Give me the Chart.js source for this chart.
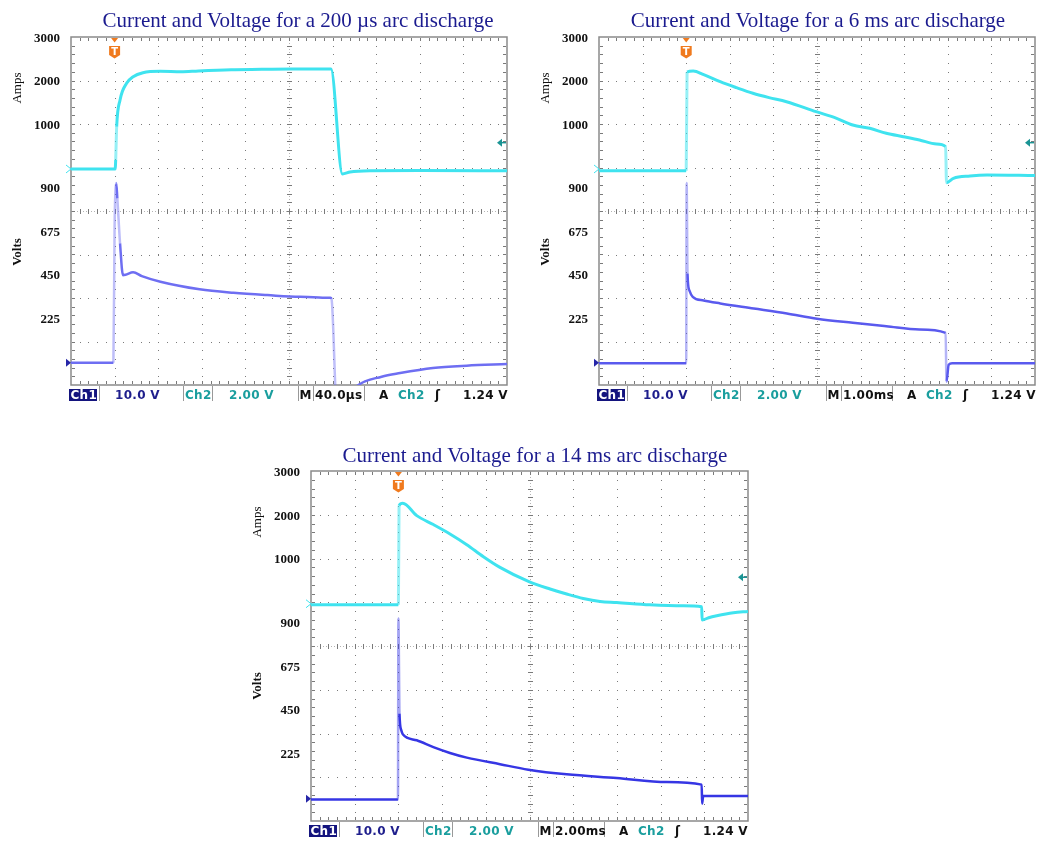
<!DOCTYPE html>
<html>
<head>
<meta charset="utf-8">
<script src="https://cdn.jsdelivr.net/npm/chart.js@4.4.0/dist/chart.umd.min.js"></script>
<style>
  body { margin: 0; background: #fff; width: 1039px; height: 842px; position: relative; overflow: hidden; font-family: "Liberation Serif", serif; }
  canvas { position: absolute; }
  .title { position: absolute; font-size: 21px; line-height: 24px; color: #1b1b8f; white-space: nowrap; transform: translateX(-50%); }
  .bar { position: absolute; height: 17px; width: 440px; font-family: "DejaVu Sans", sans-serif; font-size: 12px; font-weight: bold; }
  .bar span { position: absolute; top: 2px; line-height: 16px; white-space: nowrap; letter-spacing: 0.3px; }
  .bar i { position: absolute; top: 1px; width: 1px; height: 15px; background: #999; }
  .bar b { position: absolute; left: -2px; top: 3.5px; width: 28px; height: 12.5px; background: #14147e; }
</style>
</head>
<body>
<canvas id="scope1" width="520" height="410" style="left:0;top:0"></canvas>
<canvas id="scope2" width="511" height="410" style="left:528px;top:0"></canvas>
<canvas id="scope3" width="520" height="410" style="left:240px;top:434px"></canvas>

<script>
const ampTicks = [1000, 2000, 3000];
const voltTicks = [225, 450, 675, 900];
const timeBases = ['40.0µs', '1.00ms', '2.00ms'];
const titles = [
    'Current and Voltage for a 200 µs arc discharge',
    'Current and Voltage for a 6 ms arc discharge',
    'Current and Voltage for a 14 ms arc discharge'
];

// 200 us arc (time in µs)
const p1CurT = [0, 40.5, 41, 41.9, 45, 51, 57, 66, 82, 101, 117, 147, 175, 202, 238.5, 249, 256, 275, 320, 400];
const p1CurA = [0, 0, 207, 972, 1586, 1970, 2122, 2214, 2245, 2235, 2255, 2282, 2290, 2298, 2298, -115, -69, -40, -35, -40];
const p1VolT = [0, 38.9, 40, 41.5, 42.5, 45, 47.7, 50, 57, 65, 82, 118, 149, 180, 210, 238, 239, 244, 263, 285, 302, 332, 363, 400];
const p1VolV = [0, 0, 700, 930, 850, 618, 453, 455, 468, 448, 419, 380, 362, 350, 341, 336, 330, -250, -118, -72, -53, -27, -15, -7];

// 6 ms arc (time in ms)
const p2CurT = [0, 2.0, 2.02, 2.16, 2.4, 2.78, 3.15, 3.53, 3.9, 4.3, 4.98, 5.45, 5.82, 6.21, 6.59, 6.98, 7.35, 7.74, 7.95, 7.97, 8.13, 8.51, 8.9, 10];
const p2CurA = [-40, -40, 2230, 2253, 2170, 2007, 1870, 1740, 1640, 1547, 1317, 1165, 1011, 935, 821, 743, 667, 575, 513, -315, -214, -161, -138, -150];
const p2VolT = [0, 2.0, 2.01, 2.03, 2.07, 2.15, 2.4, 2.78, 3.55, 4.31, 5.0, 5.82, 6.59, 7.35, 7.95, 7.97, 8.02, 8.1, 10];
const p2VolV = [-3, -3, 930, 462, 376, 341, 322, 307, 281, 255, 228, 207, 189, 172, 155, -98, -10, -2, -2];

// 14 ms arc (time in ms)
const p3CurT = [0, 4.0, 4.03, 4.2, 4.84, 5.6, 6.36, 7.13, 7.89, 8.65, 9.95, 10.94, 11.7, 12.46, 13.23, 13.99, 15.5, 17.04, 17.88, 17.9, 18.2, 18.57, 19.33, 20];
const p3CurA = [-23, -23, 2243, 2295, 2014, 1810, 1595, 1350, 1075, 831, 510, 336, 222, 121, 53, 30, -23, -46, -69, -373, -320, -275, -206, -176];
const p3VolT = [0, 3.98, 4.0, 4.05, 4.13, 4.2, 4.84, 5.6, 6.36, 7.13, 8.65, 9.95, 11.7, 13.99, 16.28, 17.88, 17.9, 17.95, 20];
const p3VolV = [-4, -4, 927, 437, 352, 331, 300, 265, 235, 211, 177, 149, 125, 106, 85, 72, -26, 13, 13];

// screen ranges: 8 divisions, current 1000 A/div, voltage 225 V/div
const AMP_MIN = -4966, AMP_MAX = 3034;
const VOLT_MIN = -115, VOLT_MAX = 1685;
const TRIG_LEVEL_A = 605;

const CYAN = '#3fe3ef';

// dotted graticule, centre rulers, frame and scope markers
const scopeGrid = {
    id: 'scopeGrid',
    afterLayout(chart) {
        // let the zero-width label axes draw their labels left of the screen
        ['amps', 'volts'].forEach(id => {
            const s = chart.scales[id];
            s.left = 0;
            s.right = chart.chartArea.left;
            s.width = s.right;
        });
    },
    beforeDatasetsDraw(chart, args, o) {
        const { ctx, chartArea: a, scales } = chart;
        const xs = [], ys = [];
        for (let k = 0; k <= 10; k++) xs.push(scales.x.getPixelForValue(k * o.tPerDiv));
        for (let j = 0; j <= 8; j++) ys.push(scales.div.getPixelForValue(j));
        const sx = (xs[10] - xs[0]) / 50, sy = (ys[0] - ys[8]) / 40;
        const dot = (x, y, w, h) => ctx.fillRect(Math.round(x), Math.round(y), w, h);
        ctx.save();
        ctx.fillStyle = '#7a7a7a';
        for (let k = 1; k < 10; k++) if (k !== 5) for (let m = 1; m < 40; m++) dot(xs[k], ys[8] + m * sy, 1, 1);
        for (let j = 1; j < 8; j++) if (j !== 4) for (let m = 1; m < 50; m++) dot(xs[0] + m * sx, ys[j], 1, 1);
        const cx = xs[5], cy = ys[4];
        ctx.fillStyle = '#b4b4b4';
        for (let m = 0; m < 150; m++) dot(xs[0] + m * sx / 3, cy, 1, 1);
        for (let m = 0; m < 120; m++) dot(cx, ys[8] + m * sy / 3, 1, 1);
        ctx.fillStyle = '#7a7a7a';
        for (let m = 1; m < 50; m++) dot(xs[0] + m * sx, cy - 2, 1, 5);
        for (let m = 1; m < 40; m++) dot(cx - 2, ys[8] + m * sy, 5, 1);
        for (let m = 1; m < 50; m++) { dot(xs[0] + m * sx, a.top + 1, 1, 3); dot(xs[0] + m * sx, a.bottom - 4, 1, 3); }
        for (let m = 1; m < 40; m++) { dot(a.left + 1, ys[8] + m * sy, 3, 1); dot(a.right - 4, ys[8] + m * sy, 3, 1); }
        ctx.strokeStyle = '#8a8a8a';
        ctx.lineWidth = 1.5;
        ctx.strokeRect(a.left, a.top, a.width, a.height);
        ctx.restore();
    },
    afterDatasetsDraw(chart, args, o) {
        const { ctx, chartArea: a, scales } = chart;
        ctx.save();
        // trigger position marker
        const tx = scales.x.getPixelForValue(o.trigT);
        ctx.fillStyle = '#f07a1e';
        ctx.beginPath();
        ctx.moveTo(tx - 3.5, a.top + 1); ctx.lineTo(tx + 3.5, a.top + 1); ctx.lineTo(tx, a.top + 5.5);
        ctx.fill();
        ctx.beginPath();
        ctx.moveTo(tx - 5.5, a.top + 9); ctx.lineTo(tx + 5.5, a.top + 9); ctx.lineTo(tx + 5.5, a.top + 18);
        ctx.lineTo(tx, a.top + 21.5); ctx.lineTo(tx - 5.5, a.top + 18);
        ctx.closePath(); ctx.fill();
        ctx.fillStyle = '#fff';
        ctx.font = 'bold 10px "DejaVu Sans"';
        ctx.textAlign = 'center'; ctx.textBaseline = 'middle';
        ctx.fillText('T', tx, a.top + 15);
        // ground markers
        const ya = scales.amps.getPixelForValue(0);
        ctx.strokeStyle = CYAN; ctx.lineWidth = 1;
        ctx.beginPath();
        ctx.moveTo(a.left - 5, ya - 4); ctx.lineTo(a.left, ya); ctx.lineTo(a.left - 5, ya + 4);
        ctx.stroke();
        const yv = scales.volts.getPixelForValue(0);
        ctx.fillStyle = '#2626a8';
        ctx.beginPath();
        ctx.moveTo(a.left - 5, yv - 4); ctx.lineTo(a.left, yv); ctx.lineTo(a.left - 5, yv + 4);
        ctx.fill();
        // trigger level arrow
        const yt = scales.amps.getPixelForValue(TRIG_LEVEL_A);
        ctx.fillStyle = '#1a9494'; ctx.strokeStyle = '#1a9494'; ctx.lineWidth = 1.5;
        ctx.beginPath();
        ctx.moveTo(a.right - 10, yt); ctx.lineTo(a.right - 5, yt - 4); ctx.lineTo(a.right - 5, yt + 4);
        ctx.fill();
        ctx.beginPath(); ctx.moveTo(a.right - 6, yt); ctx.lineTo(a.right - 1, yt); ctx.stroke();
        // side titles
        ctx.fillStyle = '#111';
        ctx.textAlign = 'center'; ctx.textBaseline = 'middle';
        ctx.translate(a.left - 53, a.top + 51);
        ctx.rotate(-Math.PI / 2);
        ctx.font = '13px "Liberation Serif"';
        ctx.fillText('Amps', 0, 0);
        ctx.rotate(Math.PI / 2);
        ctx.translate(0, 164);
        ctx.rotate(-Math.PI / 2);
        ctx.font = 'bold 13px "Liberation Serif"';
        ctx.fillText('Volts', 0, 0);
        ctx.restore();
    }
};

function faint(color) {
    return c => Math.abs(c.p1.y - c.p0.y) > 8 * Math.abs(c.p1.x - c.p0.x) + 20 ? color : undefined;
}

function makeScope(id, o) {
    const zeroWidth = s => { s.width = 0; };
    const tickFont = { family: 'Liberation Serif', size: 13, weight: 'bold' };
    return new Chart(document.getElementById(id), {
        type: 'line',
        data: {
            datasets: [
                {
                    data: o.curT.map((t, i) => ({ x: t, y: o.curA[i] })),
                    yAxisID: 'amps', borderColor: CYAN, borderWidth: 3,
                    segment: { borderColor: faint('rgba(63,227,239,0.55)') }
                },
                {
                    data: o.volT.map((t, i) => ({ x: t, y: o.volV[i] })),
                    yAxisID: 'volts', borderColor: o.voltColor, borderWidth: 2.5,
                    segment: { borderColor: faint(o.voltFaint) }
                }
            ]
        },
        options: {
            responsive: false, animation: false, events: [],
            layout: { padding: { left: 71, top: 37, right: o.padR, bottom: o.padB } },
            elements: { point: { radius: 0 }, line: { cubicInterpolationMode: 'monotone', fill: false } },
            plugins: {
                legend: { display: false }, tooltip: { enabled: false }, title: { display: false },
                scopeGrid: { tPerDiv: o.tPerDiv, trigT: o.trigT }
            },
            scales: {
                x: { type: 'linear', min: 0, max: o.tPerDiv * 10, display: false },
                div: { type: 'linear', position: 'left', min: 0, max: 8, display: false },
                amps: {
                    type: 'linear', position: 'left', min: AMP_MIN, max: AMP_MAX,
                    grid: { display: false, drawTicks: false }, border: { display: false },
                    afterBuildTicks: s => { s.ticks = ampTicks.map(v => ({ value: v })); },
                    afterFit: zeroWidth,
                    ticks: { font: tickFont, color: '#111', padding: 11, autoSkip: false, callback: v => String(v) }
                },
                volts: {
                    type: 'linear', position: 'left', min: VOLT_MIN, max: VOLT_MAX,
                    grid: { display: false, drawTicks: false }, border: { display: false },
                    afterBuildTicks: s => { s.ticks = voltTicks.map(v => ({ value: v })); },
                    afterFit: zeroWidth,
                    ticks: { font: tickFont, color: '#111', padding: 11, autoSkip: false, callback: v => String(v) }
                }
            }
        },
        plugins: [scopeGrid]
    });
}

makeScope('scope1', { curT: p1CurT, curA: p1CurA, volT: p1VolT, volV: p1VolV, tPerDiv: 40, trigT: 40,
    voltColor: '#6e6ef2', voltFaint: 'rgba(110,110,242,0.45)', padR: 13, padB: 25 });
makeScope('scope2', { curT: p2CurT, curA: p2CurA, volT: p2VolT, volV: p2VolV, tPerDiv: 1, trigT: 2,
    voltColor: '#5a5aee', voltFaint: 'rgba(90,90,238,0.45)', padR: 4, padB: 25 });
makeScope('scope3', { curT: p3CurT, curA: p3CurA, volT: p3VolT, volV: p3VolV, tPerDiv: 2, trigT: 4,
    voltColor: '#3636e4', voltFaint: 'rgba(54,54,228,0.45)', padR: 12, padB: 23 });

// titles and the scope status line under each screen
const panels = [
    { left: 71, bottom: 385, titleX: 298, titleY: 8 },
    { left: 599, bottom: 385, titleX: 818, titleY: 8 },
    { left: 311, bottom: 821, titleX: 535, titleY: 442.6 }
];
panels.forEach((p, i) => {
    const t = document.createElement('div');
    t.className = 'title';
    t.style.left = p.titleX + 'px';
    t.style.top = p.titleY + 'px';
    t.textContent = titles[i];
    document.body.appendChild(t);

    const bar = document.createElement('div');
    bar.className = 'bar';
    bar.style.left = p.left + 'px';
    bar.style.top = p.bottom + 'px';
    const items = [
        ['Ch1', -0.5, '#fff'], ['10.0 V', 44, '#1e1e8c'], ['Ch2', 114, '#1a9e9e'], ['2.00 V', 158, '#1a9e9e'],
        ['M', 228.5, '#111'], [timeBases[i], 244, '#111'], ['A', 308, '#111'], ['Ch2', 327, '#1a9e9e'],
        ['ʃ', 364, '#111'], ['1.24 V', 392, '#111']
    ];
    let html = '<b></b>';
    [28, 112, 141, 227, 242, 293].forEach(x => { html += `<i style="left:${x}px"></i>`; });
    items.forEach(([txt, x, c]) => { html += `<span style="left:${x}px;color:${c}">${txt}</span>`; });
    bar.innerHTML = html;
    document.body.appendChild(bar);
});
</script>
</body>
</html>
